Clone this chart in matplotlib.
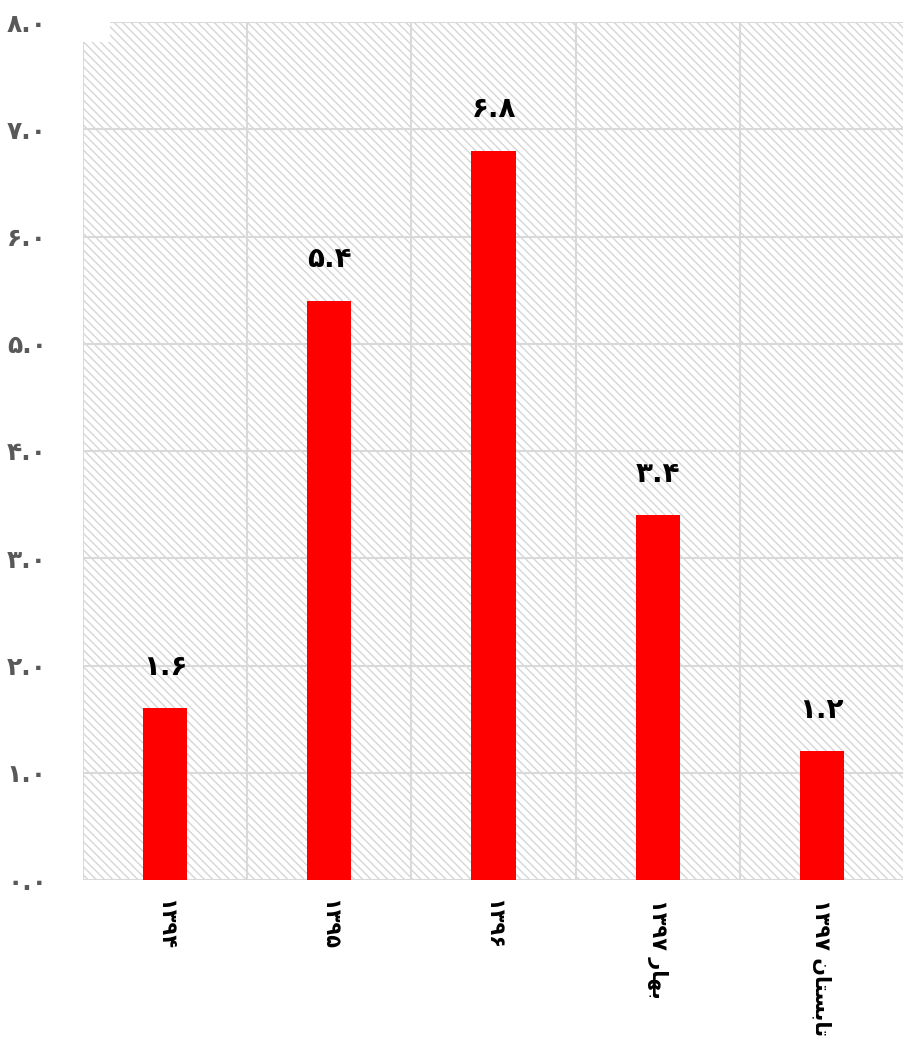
import matplotlib
matplotlib.use("Agg")
import matplotlib.pyplot as plt
from matplotlib.patches import Rectangle

# Data
categories = ["۱۳۹۴", "۱۳۹۵", "۱۳۹۶", "۱۳۹۷ ﺭﺎﻬﺑ", "۱۳۹۷ ﻥﺎﺘﺴﺑﺎﺗ"]
values = [1.6, 5.4, 6.8, 3.4, 1.2]
value_labels = ["۱.۶", "۵.۴", "۶.۸", "۳.۴", "۱.۲"]
yticks = [0, 1, 2, 3, 4, 5, 6, 7, 8]
ytick_labels = ["۰.۰", "۱.۰", "۲.۰", "۳.۰", "۴.۰", "۵.۰", "۶.۰", "۷.۰", "۸.۰"]

plt.rcParams['font.family'] = ['DejaVu Sans', 'Noto Sans']
plt.rcParams['hatch.linewidth'] = 1.0
plt.rcParams['hatch.color'] = '#d6d6d6'

fig = plt.figure(figsize=(9.04, 10.4), dpi=100)
ax = fig.add_axes([83/904, 160/1040, 821/904, 858/1040])

x = list(range(len(categories)))
ax.set_xlim(-0.5, len(categories) - 0.5)
ax.set_ylim(0, 8)

# hatched background
ax.add_patch(Rectangle((0, 0), 1, 1, transform=ax.transAxes, facecolor='white',
                       edgecolor='#d6d6d6', hatch='\\\\\\\\', linewidth=0, zorder=0))

# grid
for yv in yticks:
    ax.axhline(yv, color='#d9d9d9', linewidth=1.5, zorder=1)
for i in range(len(categories) + 1):
    ax.axvline(i - 0.5, color='#d9d9d9', linewidth=1.5, zorder=1)

bars = ax.bar(x, values, width=0.27, color='#ff0000', zorder=3)
for xi, v, lab in zip(x, values, value_labels):
    ax.annotate(lab, (xi, v), xytext=(0, 30), textcoords='offset points',
                ha='center', va='center', fontsize=20, fontweight='bold', color='black')

# small white box at top-left
ax.add_patch(Rectangle((0, 1), 27/821, -20/858, transform=ax.transAxes,
                       facecolor='white', edgecolor='none', zorder=2))

for s in ax.spines.values():
    s.set_visible(False)

ax.set_yticks(yticks)
ax.set_yticklabels(ytick_labels, fontsize=18, fontweight='bold', color='#595959')
ax.tick_params(axis='y', length=0, pad=26)
ax.set_xticks(x)
ax.set_xticklabels(categories, rotation=-90, fontsize=15, fontweight='bold',
                   color='black', va='top', ha='center')
ax.tick_params(axis='x', length=0, pad=14)

fig.savefig("out.png", dpi=100)
